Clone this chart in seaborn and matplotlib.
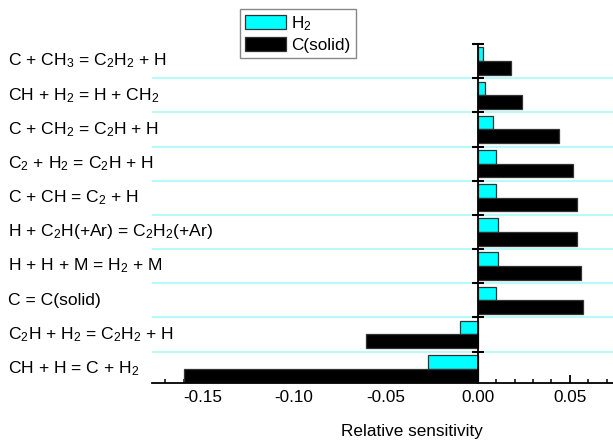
import numpy as np
import pandas as pd
import matplotlib
matplotlib.use("Agg")
import matplotlib.pyplot as plt
import matplotlib.transforms as mtransforms
import seaborn as sns

reactions = [
    "C + CH$_3$ = C$_2$H$_2$ + H",
    "CH + H$_2$ = H + CH$_2$",
    "C + CH$_2$ = C$_2$H + H",
    "C$_2$ + H$_2$ = C$_2$H + H",
    "C + CH = C$_2$ + H",
    "H + C$_2$H(+Ar) = C$_2$H$_2$(+Ar)",
    "H + H + M = H$_2$ + M",
    "C = C(solid)",
    "C$_2$H + H$_2$ = C$_2$H$_2$ + H",
    "CH + H = C + H$_2$",
]
h2_sens = [0.003, 0.004, 0.008, 0.010, 0.010, 0.011, 0.011, 0.010, -0.010, -0.027]
csolid_sens = [0.018, 0.024, 0.044, 0.052, 0.054, 0.054, 0.056, 0.057, -0.061, -0.160]
series_names = ["H$_2$", "C(solid)"]
xticks = [-0.15, -0.10, -0.05, 0.00, 0.05]

sns.set_theme(style="white")
plt.rcParams["font.family"] = ["Liberation Sans", "DejaVu Sans"]
plt.rcParams["mathtext.default"] = "regular"
plt.rcParams["text.color"] = "black"
plt.rcParams["axes.labelcolor"] = "black"
plt.rcParams["xtick.color"] = "black"
plt.rcParams["ytick.color"] = "black"

df = pd.DataFrame({
    "reaction": reactions * 2,
    "value": h2_sens + csolid_sens,
    "species": [series_names[0]] * len(reactions) + [series_names[1]] * len(reactions),
})

fig = plt.figure(figsize=(6.13, 4.44), dpi=100)
ax = fig.add_axes([151.7 / 613, 61 / 444, 1 - 151.7 / 613, (383 - 44) / 444])

sns.barplot(
    data=df, x="value", y="reaction", hue="species", orient="h",
    order=reactions, hue_order=series_names,
    palette=["#00ffff", "#000000"], width=0.8, ax=ax,
    edgecolor="#333333", linewidth=0.9, saturation=1,
)

n = len(reactions)
xmin, xmax = -0.1775, 0.0735
ax.set_xlim(xmin, xmax)
ax.set_ylim(n - 0.58, -0.5)

# reaction boundaries
bounds = np.arange(n) - 0.5
ax.hlines(bounds[1:], xmin, xmax, colors="#a8fafa", linewidth=1.2, zorder=0)

for s in ["top", "right"]:
    ax.spines[s].set_visible(False)
ax.spines["left"].set_position(("data", 0))
ax.spines["left"].set_linewidth(1.3)
ax.spines["left"].set_color("black")
ax.spines["bottom"].set_linewidth(1.3)
ax.spines["bottom"].set_color("black")

ax.set_yticks(bounds)
ax.set_yticklabels([])
ax.tick_params(axis="y", direction="inout", length=9, width=1.5, color="black", left=True)
ax.set_ylabel("")

ax.set_xticks(xticks)
ax.set_xticklabels([f"{v:.2f}" for v in xticks])
ax.xaxis.set_minor_locator(matplotlib.ticker.MultipleLocator(0.01))
ax.tick_params(axis="x", which="major", direction="in", length=6, width=1.3,
               color="black", labelsize=12.3, labelcolor="black", pad=5, bottom=True)
ax.tick_params(axis="x", which="minor", direction="in", length=3, width=1.1,
               color="black", bottom=True)
ax.set_xlabel("Relative sensitivity", fontsize=12.3, color="black")
ax.xaxis.set_label_coords((412 - 151.7) / (613 - 151.7), -0.12)

trans = mtransforms.blended_transform_factory(fig.transFigure, ax.transData)
for i, r in enumerate(reactions):
    ax.text(8 / 613, i, r, transform=trans, ha="left", va="center",
            fontsize=12.6, color="black")

handles, labels = ax.get_legend_handles_labels()
leg = ax.legend(handles, labels, loc="upper left",
                bbox_to_anchor=(240 / 613, 1 - 9 / 444), bbox_transform=fig.transFigure,
                frameon=True, fancybox=False, edgecolor="#888888", framealpha=1,
                fontsize=12.3, handlelength=2.4, handleheight=0.9, handletextpad=0.3,
                borderpad=0.3, labelspacing=0.25, borderaxespad=0)
for t in leg.get_texts():
    t.set_color("black")

fig.savefig("out.png", dpi=100)
